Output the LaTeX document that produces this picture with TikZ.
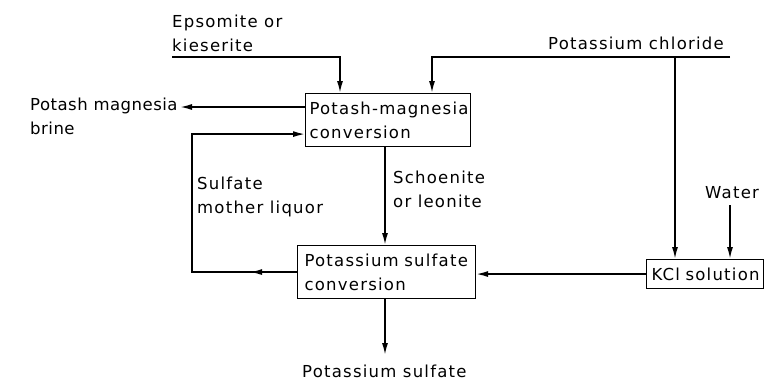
\documentclass[tikz,border=0pt]{standalone}
\usepackage{fontspec}
\setmainfont{DejaVu Sans}[LetterSpace=7.5]
\usetikzlibrary{arrows.meta,calc}
\begin{document}
\begin{tikzpicture}[x=1pt,y=-1pt,
  every node/.style={font=\fontsize{16.5}{24}\selectfont, inner sep=0pt},
  lbl/.style={anchor=base west, align=left},
  box/.style={draw, line width=1.1pt, anchor=north west, align=left, inner ysep=0pt},
  line/.style={line width=1.6pt},
  flow/.style={line, -{Latex[length=12pt,width=6pt]}}]
\useasboundingbox (0,0) rectangle (764,381);
% boxes
\node[box, inner xsep=4pt, text width=157pt, minimum height=53pt] (b1) at (305,93) {\mbox{Potash-magnesia}\\conversion};
\node[box, inner xsep=7pt, text width=164pt, minimum height=53pt] (b2) at (297,245) {Potassium sulfate\\conversion};
\node[box, inner xsep=5pt, text width=107pt, minimum height=29pt] (kcl) at (646,259) {KCl solution};
% labels (base = baseline of last line)
\node[lbl] (eps) at (172,51) {Epsomite or\\kieserite};
\node[lbl] (kcltxt) at (548,49) {Potassium chloride};
\node[lbl, font=\fontsize{16.5}{24}\selectfont\addfontfeatures{LetterSpace=3}] (brine) at (30,134) {Potash magnesia\\brine};
\node[lbl] (sml) at (197,213) {Sulfate\\mother liquor};
\node[lbl] (sch) at (393,207) {Schoenite\\or leonite};
\node[lbl] (wtxt) at (705,198) {Water};
\node[lbl] (out) at (302,377) {Potassium sulfate};
% helper coordinates
\coordinate (epsl) at (172,57);
\coordinate (xe) at (340,0);
\coordinate (kcr) at (730,57);
\coordinate (xk) at (432,0);
\coordinate (xv) at (675,0);
\coordinate (wat) at (730,205);
\coordinate (xl) at (192,0);
\coordinate (xs) at (385,0);
\coordinate (xm) at (250,0);
\coordinate (brtip) at (180,107);
\coordinate (outtip) at (385,355);
\coordinate (b1in) at ($(b1.south west)+(0,-13)$);
\coordinate (b1out) at ($(b1.north west)+(0,14)$);
% connectors
\draw[flow] (epsl) -| (xe |- b1.north);
\draw[flow] (kcr) -| (xk |- b1.north);
\draw[flow] (xv |- kcr) -- (xv |- kcl.north);
\draw[flow] (wat) -- (wat |- kcl.north);
\draw[flow] (kcl.west) -- (kcl.west -| b2.east);
\draw[flow] (b1out) -- (brtip);
\draw[flow] (xs |- b1.south) -- (xs |- b2.north);
\draw[flow] (xs |- b2.south) -- (outtip);
\draw[flow] (b2.west) -- (xm |- b2.west);
\draw[flow] (b2.west) -- (xl |- b2.west) -- (xl |- b1in) -- (b1in);
\end{tikzpicture}
\end{document}
